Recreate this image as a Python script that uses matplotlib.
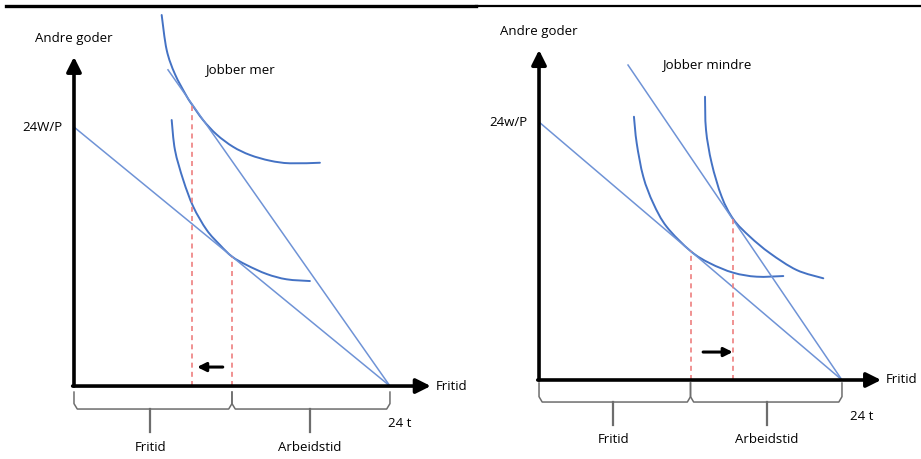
import numpy as np
import matplotlib
matplotlib.use('Agg')
import matplotlib.pyplot as plt
from matplotlib.lines import Line2D
from matplotlib.path import Path
from matplotlib.patches import PathPatch

plt.rcParams['font.family'] = ['Open Sans', 'DejaVu Sans']

#######################################
# data (hours on x, goods on y)
#######################################
# budget line with old wage, same in both panels
budget_x = [0, 24]
budget_y = [24, 0]

# left panel: higher wage -> works more
left_steep_x = [7.14, 24]
left_steep_y = [29.3, 0]
left_high_x = [6.66, 7.04, 7.67, 8.56, 8.95, 9.80, 10.84, 12.08, 13.37, 14.89, 16.40, 18.68]
left_high_y = [34.38, 31.14, 28.90, 26.85, 26.10, 24.65, 23.30, 22.17, 21.41, 20.88, 20.64, 20.69]
left_low_x = [7.42, 7.67, 8.30, 9.06, 10.08, 11.09, 12.0, 13.12, 14.64, 16.15, 17.92]
left_low_y = [24.65, 21.87, 19.09, 16.62, 14.46, 13.07, 12.0, 11.21, 10.38, 9.89, 9.73]
left_opt_old = (12.0, 12.0)
left_opt_new = (8.95, 26.10)
left_arrow = ([11.3, 9.35], 1.76)

# right panel: higher wage -> works less
right_steep_x = [7.05, 24]
right_steep_y = [29.3, 0]
right_low_x = [7.52, 7.74, 8.26, 9.05, 10.11, 12.0, 13.54, 15.39, 17.24, 19.35]
right_low_y = [24.49, 22.02, 18.91, 16.44, 14.26, 12.0, 10.86, 9.98, 9.61, 9.67]
right_high_x = [13.15, 13.23, 13.68, 14.47, 15.40, 16.71, 18.30, 20.41, 22.52]
right_high_y = [26.35, 23.26, 20.16, 17.05, 14.95, 13.33, 11.79, 10.23, 9.46]
right_opt_old = (12.0, 12.0)
right_opt_new = (15.40, 14.95)
right_arrow = ([13.0, 15.35], 2.6)

blue = '#4472c4'
blue_light = '#6f93d6'
red = '#ee7f7f'
grey = '#6d6d6d'
fs = 9.5


def smooth_curve(ax, xs, ys, **kw):
    # catmull-rom through the read points, drawn as bezier path
    p = np.column_stack([xs, ys])
    ext = np.vstack([p[0], p, p[-1]])
    verts = [p[0]]
    codes = [Path.MOVETO]
    for i in range(1, len(ext) - 2):
        c1 = ext[i] + (ext[i + 1] - ext[i - 1]) / 6
        c2 = ext[i + 1] - (ext[i + 2] - ext[i]) / 6
        verts += [c1, c2, ext[i + 1]]
        codes += [Path.CURVE4] * 3
    ax.add_patch(PathPatch(Path(verts, codes), fill=False, capstyle='round', **kw))


def brace(ax, x0, x1, xc, top, mid, bot):
    ax.plot([x0, x0, x0 + 0.25, x1 - 0.25, x1, x1], [top, mid + 0.5, mid, mid, mid + 0.5, top],
            color=grey, lw=1.1)
    ax.plot([xc, xc], [mid, bot], color=grey, lw=1.6)


def panel(ax, steep_x, steep_y, high_x, high_y, low_x, low_y, opt_old, opt_new, arrow,
          ylab_top, int_label, title, title_xy, t24_xy, txt_y, brace_y, lbl_x):
    ax.plot(budget_x, budget_y, color=blue_light, lw=1.1)
    ax.plot(steep_x, steep_y, color=blue_light, lw=1.1)
    smooth_curve(ax, high_x, high_y, edgecolor=blue, lw=1.4)
    smooth_curve(ax, low_x, low_y, edgecolor=blue, lw=1.4)
    # dashed drop lines
    for p in (opt_old, opt_new):
        ax.plot([p[0], p[0]], [0, p[1]], color=red, lw=1.2, ls=(0, (3, 2.5)))
    # axes with arrow heads
    ax.annotate('', xy=(0, ylab_top), xytext=(0, 0),
                arrowprops=dict(arrowstyle='-|>', lw=2.6, color='k', mutation_scale=22,
                                shrinkA=0, shrinkB=0))
    ax.annotate('', xy=(27.1, 0), xytext=(-0.1, 0),
                arrowprops=dict(arrowstyle='-|>', lw=2.6, color='k', mutation_scale=22,
                                shrinkA=0, shrinkB=0))
    # small shift arrow
    ax.annotate('', xy=(arrow[0][1], arrow[1]), xytext=(arrow[0][0], arrow[1]),
                arrowprops=dict(arrowstyle='-|>', lw=2.2, color='k', mutation_scale=13,
                                shrinkA=0, shrinkB=0))
    ax.text(0, ylab_top + 1.7, 'Andre goder', ha='center', va='center', fontsize=fs)
    ax.text(-0.9, 24, int_label, ha='right', va='center', fontsize=fs)
    ax.text(title_xy[0], title_xy[1], title, ha='center', va='center', fontsize=fs)
    ax.text(27.5, 0, 'Fritid', ha='left', va='center', fontsize=fs)
    ax.text(t24_xy[0], t24_xy[1], '24 t', ha='center', va='center', fontsize=fs)
    # braces under the axis
    top, mid, bot = brace_y
    brace(ax, 0, opt_old[0], lbl_x[0], top, mid, bot)
    brace(ax, opt_old[0], 24, lbl_x[1], top, mid, bot)
    ax.text(lbl_x[0], txt_y, 'Fritid', ha='center', va='center', fontsize=fs)
    ax.text(lbl_x[1], txt_y, 'Arbeidstid', ha='center', va='center', fontsize=fs)


fig = plt.figure(figsize=(9.21, 4.59), dpi=100)

ax1 = fig.add_axes([0, 0, 460 / 921, 1])
ax1.set_xlim(-5.62, 29.32)
ax1.set_ylim(-6.76, 35.77)
panel(ax1, left_steep_x, left_steep_y, left_high_x, left_high_y, left_low_x, left_low_y,
      left_opt_old, left_opt_new, left_arrow, 30.5, '24W/P', 'Jobber mer', (12.6, 29.3),
      (24.76, -3.43), -5.65, (-0.56, -2.13, -4.26), (5.8, 17.9))
ax1.axis('off')

ax2 = fig.add_axes([460 / 921, 0, 461 / 921, 1])
ax2.set_xlim(-6.26, 30.26)
ax2.set_ylim(-7.35, 35.35)
panel(ax2, right_steep_x, right_steep_y, right_high_x, right_high_y, right_low_x, right_low_y,
      right_opt_old, right_opt_new, right_arrow, 30.7, '24w/P', 'Jobber mindre', (13.3, 29.3),
      (25.58, -3.35), -5.58, (-0.28, -2.05, -4.19), (5.9, 18.06))
ax2.axis('off')

# black rules along the top
fig.add_artist(Line2D([6 / 921, 476 / 921], [1 - 6.3 / 459] * 2, color='k', lw=2.4))
fig.add_artist(Line2D([476 / 921, 1], [1 - 6 / 459] * 2, color='k', lw=1.6))

plt.savefig('out.png', dpi=100)
